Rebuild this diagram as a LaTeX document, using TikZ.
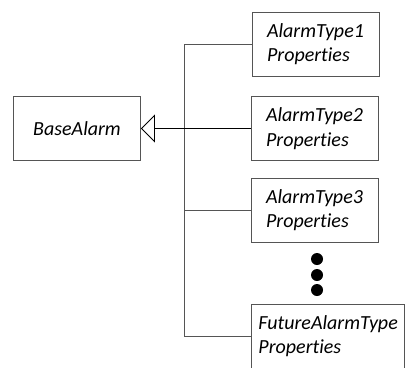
\documentclass[tikz,border=0pt]{standalone}
\usepackage{fontspec}
\setmainfont[Ligatures={NoCommon}]{Carlito}
\usetikzlibrary{arrows.meta}
\usetikzlibrary{calc}
\usepackage{xcolor}

\definecolor{boxgray}{RGB}{85,85,85}
\tikzset{
    classbox/.style={draw=boxgray, line width=0.9pt, minimum width=127pt, minimum height=64pt,
        align=left, inner sep=0pt, font=\fontsize{20}{24.5}\selectfont\itshape},
    link/.style={draw=boxgray, line width=0.9pt},
}

\begin{document}
\begin{tikzpicture}[x=1pt,y=-1pt]
    \useasboundingbox (0,0) rectangle (406,367);
    \clip (0,0) rectangle (406,367);
    \node[classbox] (base) at (77,128.5) {BaseAlarm};
    \node[classbox] (type1) at (315.5,44) {AlarmType1\\Properties};
    \node[classbox] (type2) at (314.5,128.5) {AlarmType2\\Properties};
    \node[classbox] (type3) at (314.5,210) {AlarmType3\\Properties};
    \node[classbox, anchor=west, inner xsep=7pt] (future) at (251,336) {FutureAlarmType\\Properties};
    \coordinate (trunk) at (184,0);
    \draw[link] (type1.west) -- (type1.west -| trunk) -- (future.west -| trunk) -- (future.west);
    \draw[link] (type3.west) -- (type3.west -| trunk);
    \draw[line width=0.9pt, -{Triangle[open, length=14pt, width=28pt]}] (type2.west) -- (base.east);
    \foreach \y in {259,275,290}
        \fill (317,\y) circle (6pt);
\end{tikzpicture}
\end{document}
